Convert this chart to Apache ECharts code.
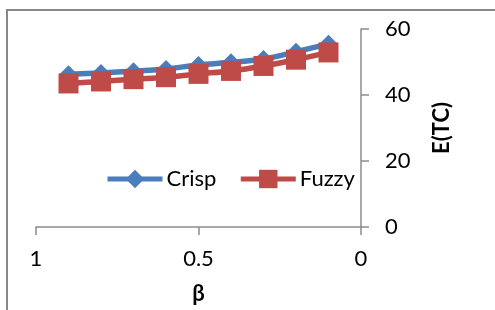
<!DOCTYPE html>
<html>
<head>
<meta charset="utf-8">
<script src="https://cdn.jsdelivr.net/npm/echarts@6/dist/echarts.min.js"></script>
<style>
  html, body { margin: 0; padding: 0; background: #fff; }
  #wrap { position: relative; width: 495px; height: 310px; overflow: hidden; }
  #frame {
    position: absolute; left: 6px; top: 9px; width: 520px; height: 320px;
    border-left: 2px solid #888; border-top: 2px solid #888;
  }
  #chart { position: absolute; left: 0; top: 0; width: 495px; height: 310px; }
</style>
</head>
<body>
<div id="wrap">
  <div id="frame"></div>
  <div id="chart"></div>
</div>
<script>
// β 取值（横轴，反向）
const betaValues = [0.9, 0.8, 0.7, 0.6, 0.5, 0.4, 0.3, 0.2, 0.1]
// 期望总成本 E(TC)
const crispValues = [46.3, 46.7, 47.2, 47.9, 49.1, 49.9, 50.9, 53.1, 55.5]
const fuzzyValues = [43.5, 44.1, 44.8, 45.4, 46.4, 47.3, 48.8, 50.7, 52.9]
const seriesNames = ['Crisp', 'Fuzzy']

const font = 'Lato, "Open Sans", sans-serif'
const axisColor = '#8c8c8c'

const toPairs = (ys) => betaValues.map((x, i) => [x, ys[i]])

const myChart = echarts.init(document.getElementById('chart'))
const option = {
  animation: false,
  textStyle: { fontFamily: font },
  grid: { left: 36, right: 134, top: 29, bottom: 80 },
  legend: {
    data: seriesNames,
    left: 100,
    top: 163,
    itemWidth: 55,
    itemHeight: 23,
    itemGap: 22,
    lineStyle: { width: 5 },
    textStyle: { fontFamily: font, fontSize: 22, color: '#000', padding: [0, 0, 0, -1] }
  },
  xAxis: {
    type: 'value',
    min: 0,
    max: 1,
    interval: 0.5,
    inverse: true,
    name: 'β',
    nameLocation: 'middle',
    nameGap: 56,
    nameTextStyle: { fontFamily: font, fontSize: 22, fontWeight: 'bold', color: '#000' },
    axisLine: { onZero: false, lineStyle: { color: axisColor, width: 1.5 } },
    axisTick: { show: true, length: 8, lineStyle: { color: axisColor, width: 1.5 } },
    axisLabel: { margin: 21, fontFamily: font, fontSize: 22, color: '#000' },
    splitLine: { show: false }
  },
  yAxis: {
    type: 'value',
    position: 'right',
    min: 0,
    max: 60,
    interval: 20,
    name: 'E(TC)',
    nameLocation: 'middle',
    nameRotate: 90,
    nameGap: 70,
    nameTextStyle: { fontFamily: font, fontSize: 22, fontWeight: 'bold', color: '#000' },
    axisLine: { show: true, lineStyle: { color: axisColor, width: 1.5 } },
    axisTick: { show: true, length: 8, lineStyle: { color: axisColor, width: 1.5 } },
    axisLabel: { margin: 24, fontFamily: font, fontSize: 22, color: '#000', align: 'left' },
    splitLine: { show: false }
  },
  series: [
    {
      name: seriesNames[0],
      type: 'line',
      data: toPairs(crispValues),
      smooth: 0.3,
      symbol: 'diamond',
      symbolSize: 18,
      itemStyle: { color: '#4a7ebb' },
      lineStyle: { color: '#4a7ebb', width: 5.5 }
    },
    {
      name: seriesNames[1],
      type: 'line',
      data: toPairs(fuzzyValues),
      smooth: 0.3,
      symbol: 'rect',
      symbolSize: 20,
      itemStyle: { color: '#be4b48' },
      lineStyle: { color: '#be4b48', width: 5.5 }
    }
  ]
}
myChart.setOption(option)
</script>
</body>
</html>
